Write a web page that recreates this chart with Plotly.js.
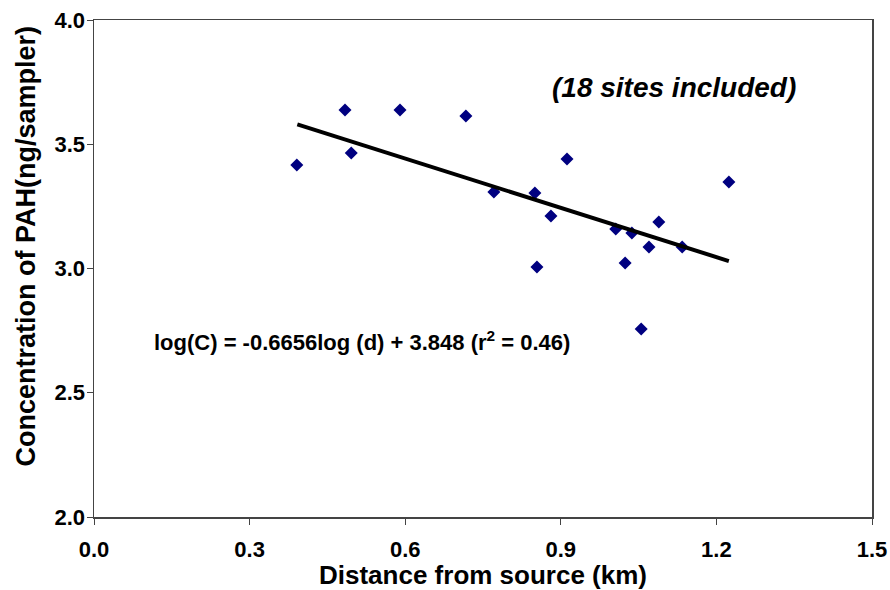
<!DOCTYPE html>
<html>
<head>
<meta charset="utf-8">
<script src="https://cdn.plot.ly/plotly-3.0.1.min.js"></script>
<style>
html,body{margin:0;padding:0;background:#fff;}
#chart{width:890px;height:590px;}
</style>
</head>
<body>
<div id="chart"></div>
<script>
// Site data: distance from source (km) and PAH concentration (log ng/sampler)
const distanceKm = [0.391, 0.484, 0.496, 0.590, 0.717, 0.771, 0.850, 0.854, 0.881, 0.912,
                    1.006, 1.024, 1.037, 1.055, 1.070, 1.089, 1.134, 1.224];
const concentration = [3.416, 3.638, 3.465, 3.638, 3.614, 3.308, 3.304, 3.006, 3.211, 3.441,
                       3.159, 3.022, 3.143, 2.757, 3.087, 3.187, 3.087, 3.348];
// Fitted trend line endpoints
const trendX = [0.392, 1.224];
const trendY = [3.580, 3.030];
const xTickVals = [0.0, 0.3, 0.6, 0.9, 1.2, 1.5];
const xTickText = ['0.0', '0.3', '0.6', '0.9', '1.2', '1.5'];
const yTickVals = [2.0, 2.5, 3.0, 3.5, 4.0];
const yTickText = ['2.0', '2.5', '3.0', '3.5', '4.0'];
const equationText = 'log(C) = -0.6656log (d) + 3.848 (r<sup>2</sup> = 0.46)';
const noteText = '(18 sites included)';
const xTitle = 'Distance from source (km)';
const yTitle = 'Concentration of PAH(ng/sampler)';

const font = 'Liberation Sans, Arial, sans-serif';
const bold = s => '<b>' + s + '</b>';

const traces = [
  {
    x: distanceKm, y: concentration, type: 'scatter', mode: 'markers',
    marker: {symbol: 'diamond', size: 10, color: '#000080', line: {width: 0}},
    showlegend: false, hoverinfo: 'x+y'
  },
  {
    x: trendX, y: trendY, type: 'scatter', mode: 'lines',
    line: {color: '#000000', width: 4},
    showlegend: false, hoverinfo: 'skip'
  }
];

const layout = {
  width: 890, height: 590,
  margin: {l: 94, r: 18, t: 20, b: 73, pad: 0},
  paper_bgcolor: '#ffffff', plot_bgcolor: '#ffffff',
  font: {family: font, color: '#000000'},
  xaxis: {
    range: [0, 1.5], tickvals: xTickVals, ticktext: xTickText.map(bold),
    showgrid: false, zeroline: false,
    showline: true, linecolor: '#444444', linewidth: 1.5, mirror: true,
    ticks: 'outside', ticklen: 6, tickcolor: '#444444', tickwidth: 1,
    ticklabelstandoff: 6,
    tickfont: {family: font, size: 22, color: '#000000'},
    title: {text: bold(xTitle), font: {family: font, size: 26, color: '#000000'}, standoff: 0}
  },
  yaxis: {
    range: [2, 4], tickvals: yTickVals, ticktext: yTickText.map(bold),
    showgrid: false, zeroline: false,
    showline: true, linecolor: '#444444', linewidth: 1.5, mirror: true,
    ticks: 'outside', ticklen: 6, tickcolor: '#444444', tickwidth: 1,
    ticklabelstandoff: -3,
    tickfont: {family: font, size: 22, color: '#000000'}
  },
  annotations: [
    {
      text: bold(yTitle), textangle: -90, xref: 'paper', yref: 'paper',
      x: -0.087, y: 0.545, xanchor: 'center', yanchor: 'middle', showarrow: false,
      font: {family: font, size: 27, color: '#000000'}
    },
    {
      text: bold(equationText), xref: 'x', yref: 'y', x: 0.112, y: 2.71,
      xanchor: 'left', yanchor: 'middle', showarrow: false,
      font: {family: font, size: 22, color: '#000000'}
    },
    {
      text: '<b><i>' + noteText + '</i></b>', xref: 'x', yref: 'y', x: 1.358, y: 3.73,
      xanchor: 'right', yanchor: 'middle', showarrow: false,
      font: {family: font, size: 28, color: '#000000'}
    }
  ]
};

Plotly.newPlot('chart', traces, layout, {displayModeBar: false, staticPlot: true});
</script>
</body>
</html>
